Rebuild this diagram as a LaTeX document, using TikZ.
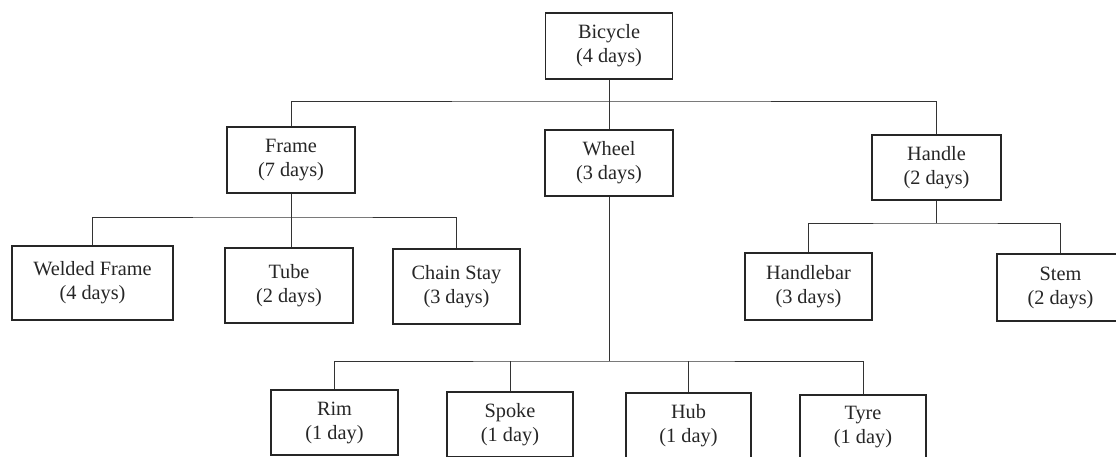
\documentclass[tikz,border=0pt]{standalone}
\usepackage{fontspec}
\setmainfont{Liberation Serif}
\begin{document}
\begin{tikzpicture}[x=1pt,y=1pt,
  box/.style={draw=black!85, line width=1.1pt, rectangle, inner sep=0pt, align=center,
    font=\fontsize{20.3}{24}\selectfont, text=black!85, minimum width=127pt, minimum height=66pt},
  tall/.style={minimum height=75pt},
  link/.style={draw=black!80, line width=0.9pt}]
\useasboundingbox (0,0) rectangle (1116,457);
\clip (0,0) rectangle (1116,457);
\fill[white] (0,0) rectangle (1116,457);
% level 0
\node[box] (bic) at (609,411) {Bicycle\\(4 days)};
% level 1
\node[box, minimum width=128pt] (frame) at (291,297) {Frame\\(7 days)};
\node[box, minimum width=128pt] (wheel) at (609,294) {Wheel\\(3 days)};
\node[box, minimum width=129pt, minimum height=65pt] (handle) at (936.5,289.5) {Handle\\(2 days)};
% level 2 (frame)
\node[box, tall, minimum width=161pt, minimum height=74pt] (weld) at (92.5,174) {Welded Frame\\(4 days)};
\node[box, tall, minimum width=128pt] (tube) at (289,171.5) {Tube\\(2 days)};
\node[box, tall] (chain) at (456.5,170.5) {Chain Stay\\(3 days)};
% level 2 (handle)
\node[box, minimum height=67pt] (hbar) at (808.5,170.5) {Handlebar\\(3 days)};
\node[box, minimum height=67pt] (stem) at (1060.5,169.5) {Stem\\(2 days)};
% level 2 (wheel)
\node[box, minimum height=65pt] (rim) at (334.5,34.5) {Rim\\(1 day)};
\node[box, minimum width=126pt, minimum height=65pt] (spoke) at (510,32.5) {Spoke\\(1 day)};
\node[box, minimum width=125pt, minimum height=65pt] (hub) at (688.5,31.5) {Hub\\(1 day)};
\node[box, minimum width=126pt, minimum height=65pt] (tyre) at (863,29.5) {Tyre\\(1 day)};
% bus coordinates
\coordinate (bus0) at (609,356);
\coordinate (bus1) at (291,240);
\coordinate (bus2) at (936.5,234);
\coordinate (bus3) at (609,96);
% connectors
\draw[link] (bic.south) -- (wheel.north);
\draw[link] (frame.north) |- (bus0) -| (handle.north);
\draw[link] (frame.south) -- (tube.north -| frame.south);
\draw[link] (weld.north) |- (bus1) -| (chain.north);
\draw[link] (handle.south) -- (bus2);
\draw[link] (hbar.north) |- (bus2) -| (stem.north);
\draw[link] (wheel.south) -- (bus3);
\draw[link] (rim.north) |- (bus3) -| (tyre.north);
\draw[link] (spoke.north) -- (spoke.north |- bus3);
\draw[link] (hub.north) -- (hub.north |- bus3);
\end{tikzpicture}
\end{document}
